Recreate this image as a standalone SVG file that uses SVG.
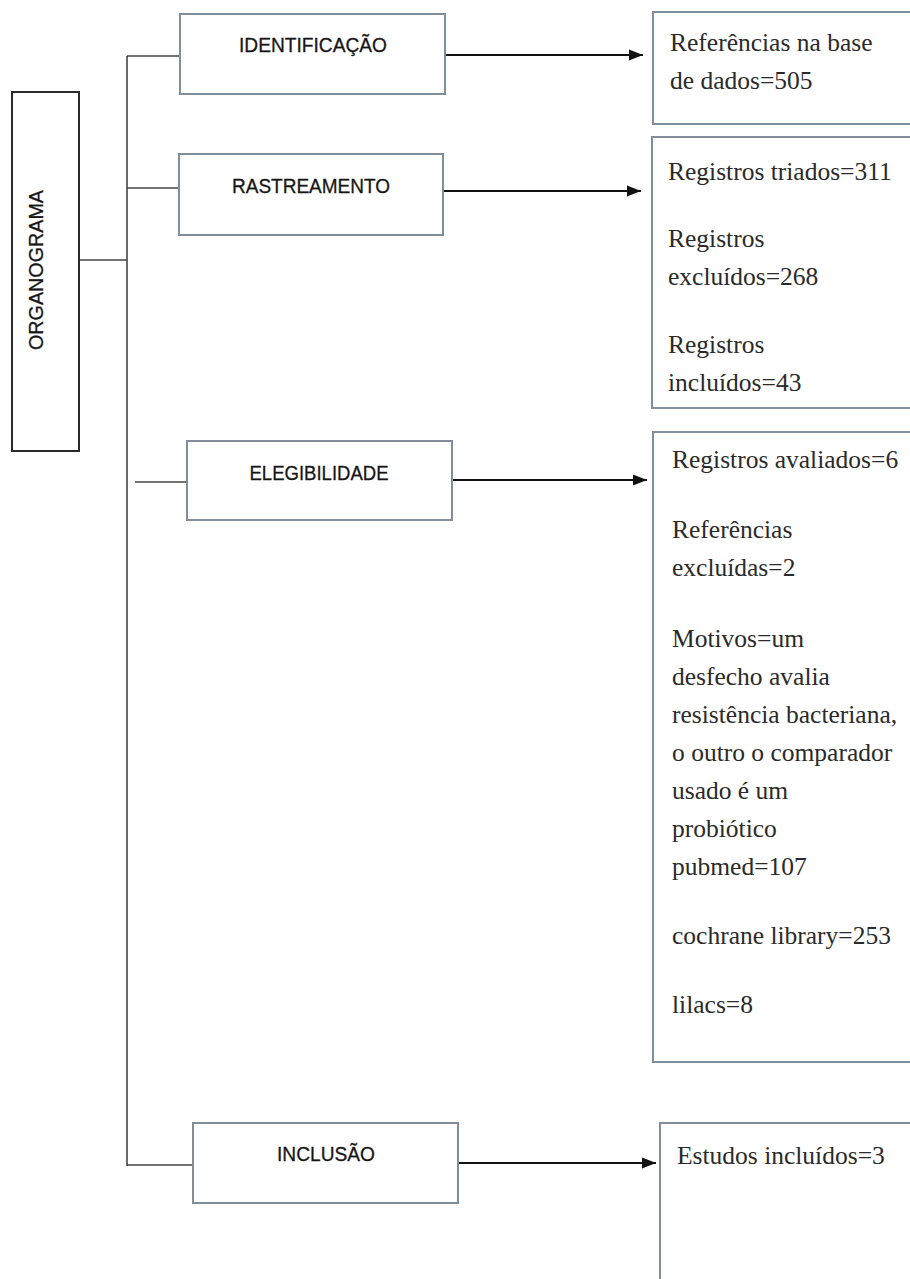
<svg xmlns="http://www.w3.org/2000/svg" width="910" height="1279" viewBox="0 0 910 1279">
  <style>
    .bg { fill: #ffffff; }
    .stage { fill: #ffffff; stroke: #7f8e9a; stroke-width: 2; }
    .org { fill: #ffffff; stroke: #2a2a2a; stroke-width: 2; }
    .info { fill: #ffffff; stroke: #7f8e9a; stroke-width: 2; }
    .lbl { font-family: "Liberation Sans", Arial, sans-serif; font-size: 20.5px; fill: #161616; text-anchor: middle; stroke: #161616; stroke-width: 0.3; }
    .txt { font-family: "Liberation Serif", "Times New Roman", serif; font-size: 25.5px; fill: #2a2a2a; }
    .branch { stroke: #444444; stroke-width: 1.6; fill: none; }
    .arrow { stroke: #111111; stroke-width: 2.2; fill: none; marker-end: url(#ah); }
  </style>
  <defs>
    <marker id="ah" markerUnits="userSpaceOnUse" markerWidth="15" markerHeight="12" refX="14" refY="6" orient="auto">
      <path d="M0,0.5 L14,6 L0,11.5 Z" fill="#111111"/>
    </marker>
  </defs>
  <rect class="bg" x="0" y="0" width="910" height="1279"/>

  <g id="connectors">
    <line class="branch" x1="79" y1="260" x2="127" y2="260"/>
    <line class="branch" x1="127" y1="56" x2="127" y2="1166"/>
    <line class="branch" x1="127" y1="56" x2="180" y2="56"/>
    <line class="branch" x1="127" y1="188" x2="179" y2="188"/>
    <line class="branch" x1="135" y1="482" x2="187" y2="482"/>
    <line class="branch" x1="127" y1="1165" x2="193" y2="1165"/>
    <line class="arrow" x1="445" y1="55" x2="643" y2="55"/>
    <line class="arrow" x1="443" y1="191" x2="641" y2="191"/>
    <line class="arrow" x1="452" y1="480" x2="647" y2="480"/>
    <line class="arrow" x1="458" y1="1163" x2="656" y2="1163"/>
  </g>

  <g id="organograma">
    <rect class="org" x="12" y="92" width="67" height="359"/>
    <text class="lbl" transform="translate(43,270) rotate(-90)" x="0" y="0" textLength="160" lengthAdjust="spacingAndGlyphs">ORGANOGRAMA</text>
  </g>

  <g id="identificacao">
    <rect class="stage" x="180" y="14" width="265" height="80"/>
    <text class="lbl" x="313" y="52" textLength="148" lengthAdjust="spacingAndGlyphs">IDENTIFICAÇÃO</text>
  </g>

  <g id="rastreamento">
    <rect class="stage" x="179" y="154" width="264" height="81"/>
    <text class="lbl" x="311" y="193" textLength="158" lengthAdjust="spacingAndGlyphs">RASTREAMENTO</text>
  </g>

  <g id="elegibilidade">
    <rect class="stage" x="187" y="441" width="265" height="79"/>
    <text class="lbl" x="319" y="480" textLength="139" lengthAdjust="spacingAndGlyphs">ELEGIBILIDADE</text>
  </g>

  <g id="inclusao">
    <rect class="stage" x="193" y="1123" width="265" height="80"/>
    <text class="lbl" x="326" y="1161" textLength="98" lengthAdjust="spacingAndGlyphs">INCLUSÃO</text>
  </g>

  <g id="box-identificacao">
    <rect class="info" x="653" y="12" width="280" height="112"/>
    <text class="txt" x="670" y="51">Referências na base</text>
    <text class="txt" x="670" y="89">de dados=505</text>
  </g>

  <g id="box-rastreamento">
    <rect class="info" x="652" y="137" width="280" height="271"/>
    <text class="txt" x="668" y="180">Registros triados=311</text>
    <text class="txt" x="668" y="247">Registros</text>
    <text class="txt" x="668" y="285">excluídos=268</text>
    <text class="txt" x="668" y="353">Registros</text>
    <text class="txt" x="668" y="391">incluídos=43</text>
  </g>

  <g id="box-elegibilidade">
    <rect class="info" x="653" y="432" width="280" height="630"/>
    <text class="txt" x="672" y="468">Registros avaliados=6</text>
    <text class="txt" x="672" y="538">Referências</text>
    <text class="txt" x="672" y="576">excluídas=2</text>
    <text class="txt" x="672" y="647">Motivos=um</text>
    <text class="txt" x="672" y="685">desfecho avalia</text>
    <text class="txt" x="672" y="723">resistência bacteriana,</text>
    <text class="txt" x="672" y="761">o outro o comparador</text>
    <text class="txt" x="672" y="799">usado é um</text>
    <text class="txt" x="672" y="837">probiótico</text>
    <text class="txt" x="672" y="875">pubmed=107</text>
    <text class="txt" x="672" y="944">cochrane library=253</text>
    <text class="txt" x="672" y="1013">lilacs=8</text>
  </g>

  <g id="box-inclusao">
    <rect class="info" x="660" y="1123" width="280" height="200"/>
    <text class="txt" x="677" y="1164">Estudos incluídos=3</text>
  </g>
</svg>
